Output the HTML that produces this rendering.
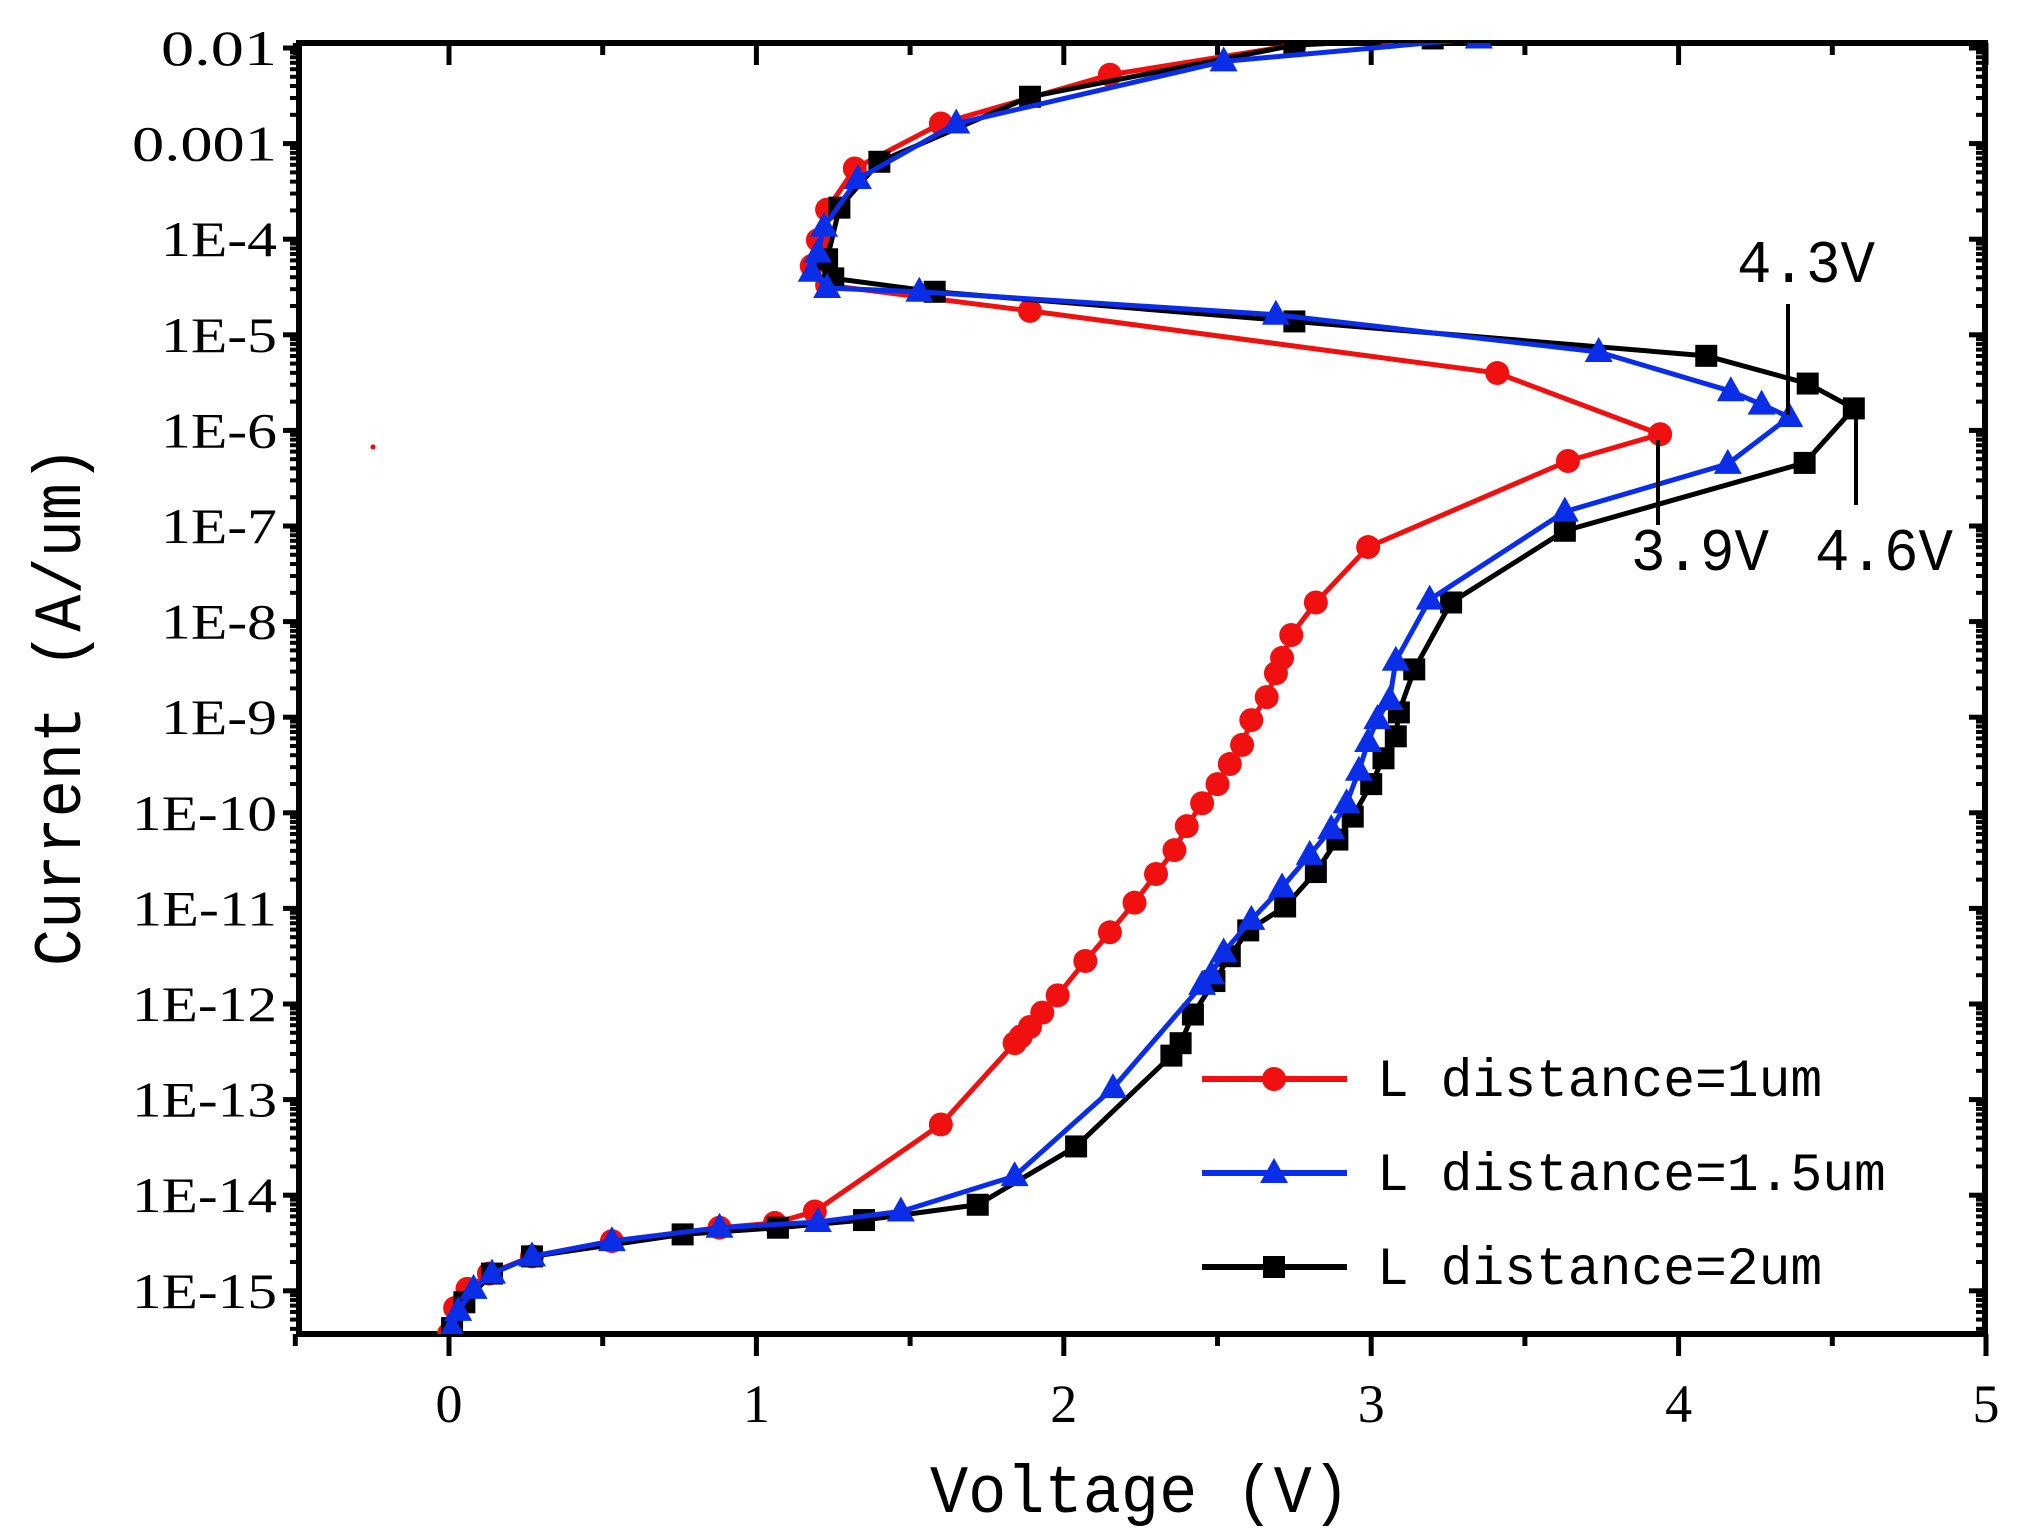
<!DOCTYPE html>
<html><head><meta charset="utf-8"><style>
html,body{margin:0;padding:0;background:#fff;}
svg{display:block;}
</style></head><body>
<svg id="chart" width="2021" height="1536" viewBox="0 0 2021 1536" xmlns="http://www.w3.org/2000/svg">
<defs><clipPath id="plotclip"><rect x="299" y="43" width="1686" height="1291"/></clipPath></defs>
<g id="axes"></g>
<g id="series" clip-path="url(#plotclip)"></g>
<g id="ann"></g>
<g id="legend"></g>
</svg>
<script>
// ---- data (voltage in V, log10 of current in A/um) ----
const redV = [0.0,0.02,0.06,0.13,0.27,0.53,0.88,1.06,1.19,1.60,1.84,1.86,1.89,1.93,1.98,2.07,2.15,2.23,2.30,2.36,2.40,2.45,2.50,2.54,2.58,2.61,2.66,2.69,2.71,2.74,2.82,2.99,3.64,3.94,3.41,1.89,1.23,1.18,1.20,1.23,1.32,1.60,2.15,2.75,3.05];
const redLogI = [-15.45,-15.18,-14.98,-14.82,-14.64,-14.48,-14.34,-14.29,-14.17,-13.26,-12.41,-12.34,-12.24,-12.09,-11.91,-11.55,-11.25,-10.94,-10.64,-10.39,-10.14,-9.90,-9.70,-9.49,-9.29,-9.03,-8.79,-8.54,-8.38,-8.14,-7.80,-7.22,-6.32,-6.04,-5.40,-4.75,-4.48,-4.28,-4.01,-3.69,-3.26,-2.79,-2.28,-1.97,-1.85];
const blueV = [0.01,0.03,0.08,0.14,0.27,0.53,0.88,1.20,1.47,1.84,2.16,2.45,2.48,2.52,2.61,2.71,2.80,2.87,2.92,2.96,2.99,3.02,3.06,3.08,3.19,3.63,4.16,4.36,4.27,4.17,3.74,2.69,1.53,1.23,1.18,1.20,1.22,1.33,1.65,2.52,3.35];
const blueLogI = [-15.39,-15.21,-14.98,-14.82,-14.64,-14.48,-14.34,-14.28,-14.17,-13.80,-12.88,-11.80,-11.69,-11.46,-11.12,-10.78,-10.44,-10.17,-9.90,-9.56,-9.26,-9.02,-8.82,-8.41,-7.77,-6.85,-6.35,-5.86,-5.73,-5.59,-5.18,-4.79,-4.55,-4.51,-4.34,-4.14,-3.87,-3.37,-2.79,-2.14,-1.90];
const blackV = [0.01,0.05,0.14,0.27,0.76,1.07,1.35,1.72,2.04,2.35,2.38,2.42,2.49,2.54,2.60,2.72,2.82,2.89,2.94,3.00,3.04,3.08,3.09,3.14,3.26,3.63,4.41,4.57,4.42,4.09,2.75,1.58,1.25,1.23,1.27,1.40,1.89,2.75,3.20];
const blackLogI = [-15.39,-15.12,-14.82,-14.64,-14.41,-14.34,-14.26,-14.10,-13.49,-12.54,-12.41,-12.11,-11.76,-11.50,-11.23,-10.98,-10.62,-10.28,-10.04,-9.70,-9.43,-9.20,-8.95,-8.50,-7.80,-7.05,-6.34,-5.77,-5.51,-5.22,-4.86,-4.55,-4.41,-4.21,-3.67,-3.19,-2.51,-1.97,-1.90];
const xTicks = [0,1,2,3,4,5];
const xTickLabels = ["0","1","2","3","4","5"];
const yTickExps = [-2,-3,-4,-5,-6,-7,-8,-9,-10,-11,-12,-13,-14,-15];
const yTickLabels = ["0.01","0.001","1E-4","1E-5","1E-6","1E-7","1E-8","1E-9","1E-10","1E-11","1E-12","1E-13","1E-14","1E-15"];
const legendLabels = ["L distance=1um","L distance=1.5um","L distance=2um"];

// ---- scales ----
const X0 = 449, XPV = 307.4;
const Y2 = 48, YPD = 95.6;
const xs = v => X0 + v * XPV;
const ys = l => Y2 + (-2 - l) * YPD;
const L = 299, R = 1985, T = 43, B = 1334;
const NS = "http://www.w3.org/2000/svg";
function mk(tag, attrs, parent){const e=document.createElementNS(NS,tag);for(const k in attrs)e.setAttribute(k,attrs[k]);parent.appendChild(e);return e;}

const axes = document.getElementById('axes');
const frame = mk('rect',{x:L,y:T,width:R-L,height:B-T,fill:'none',stroke:'#000','stroke-width':6},axes);


for (let i=0;i<=11;i++){
  const v=-0.5+i*0.5; const x=xs(v); const major=(Math.abs(v-Math.round(v))<1e-6);
  const len=major?22:12;
  const t1=mk('line',{x1:x,y1:B,x2:x,y2:B+len,stroke:'#000','stroke-width':5},axes);
  
  
  const t2=mk('line',{x1:x,y1:T,x2:x,y2:T+len,stroke:'#000','stroke-width':5},axes);
  
  
}
xTicks.forEach((v,i)=>{
  const t=mk('text',{x:xs(v),y:1422,'text-anchor':'middle','font-family':'Liberation Serif, serif','font-size':54,fill:'#000'},axes);
  t.textContent=xTickLabels[i];
  
  
});
for (let e=-2;e>=-16;e--){
  for (let m=1;m<=9;m++){
    const l=e+Math.log10(m); const y=ys(l);
    if (y<T-1||y>B+1) continue;
    const major=(m===1); const len=major?16:9;
    const a=mk('line',{x1:L,y1:y,x2:L-len,y2:y,stroke:'#000','stroke-width':major?5:4},axes);
    
    
    const b=mk('line',{x1:R,y1:y,x2:R-len,y2:y,stroke:'#000','stroke-width':major?5:4},axes);
    
    
  }
}
yTickExps.forEach((e,i)=>{
  const lab=yTickLabels[i];
  const t=mk('text',{x:277,y:ys(e)+17,'text-anchor':'end','font-family':'Liberation Serif, serif','font-size':50,fill:'#000',textLength:lab.length*29,lengthAdjust:'spacingAndGlyphs'},axes);
  t.textContent=lab;
  
  
});
const xt=mk('text',{x:1140,y:1512,'text-anchor':'middle','font-family':'Liberation Mono, monospace','font-size':68,fill:'#000',textLength:420,lengthAdjust:'spacingAndGlyphs'},axes);
xt.textContent='Voltage (V)';


const yt=mk('text',{x:0,y:0,'text-anchor':'middle','font-family':'Liberation Mono, monospace','font-size':68,fill:'#000',textLength:520,lengthAdjust:'spacingAndGlyphs',transform:'translate(80,706) rotate(-90)'},axes);
yt.textContent='Current (A/um)';


const dot=mk('circle',{cx:373,cy:447,r:2.5,fill:'#f00'},axes);



const sg=document.getElementById('series');
function marker(kind,x,y,color,parent){
  let m;
  if(kind==='circle') m=mk('circle',{cx:x,cy:y,r:12,fill:color},parent);
  else if(kind==='tri') m=mk('polygon',{points:`${x},${y-15} ${x-14},${y+10} ${x+14},${y+10}`,fill:color},parent);
  else m=mk('rect',{x:x-11,y:y-11,width:22,height:22,fill:color},parent);
  return m;
}
function drawSeries(V,LI,color,kind,name){
  const g=mk('g',{},sg);
  
  
  const pts=V.map((v,i)=>xs(v)+','+ys(LI[i])).join(' ');
  const pl=mk('polyline',{points:pts,fill:'none',stroke:color,'stroke-width':5,'stroke-linejoin':'round'},g);
  
  
  V.forEach((v,i)=>{
    const m=marker(kind,xs(v),ys(LI[i]),color,g);
    
    
  });
}
drawSeries(redV,redLogI,'#f01010','circle','series-1um');
drawSeries(blackV,blackLogI,'#000','square','series-2um');
drawSeries(blueV,blueLogI,'#0a2ee8','tri','series-1-5um');

const ann=document.getElementById('ann');
[[1788,304,415,'4.3V',1806,282],[1658,440,525,'3.9V',1700,570],[1856,412,505,'4.6V',1884,570]].forEach(a=>{
  const ln=mk('line',{x1:a[0],y1:a[1],x2:a[0],y2:a[2],stroke:'#000','stroke-width':4},ann);
  
  
  const t=mk('text',{x:a[4],y:a[5],'text-anchor':'middle','font-family':'Liberation Mono, monospace','font-size':60,fill:'#000',textLength:138,lengthAdjust:'spacingAndGlyphs'},ann);
  t.textContent=a[3];
  
  
});

const lg=document.getElementById('legend');
const legColors=['#f01010','#0a2ee8','#000'], legKinds=['circle','tri','square'], legY=[1079,1173,1267];
legendLabels.forEach((lab,i)=>{
  const g=mk('g',{},lg);
  
  
  mk('line',{x1:1202,y1:legY[i],x2:1347,y2:legY[i],stroke:legColors[i],'stroke-width':6},g);
  marker(legKinds[i],1274,legY[i],legColors[i],g);
  const t=mk('text',{x:1377,y:legY[i]+17,'font-family':'Liberation Mono, monospace','font-size':54,fill:'#000',textLength:(lab.length*31.8),lengthAdjust:'spacingAndGlyphs'},g);
  t.textContent=lab;
});
</script>
</body></html>
